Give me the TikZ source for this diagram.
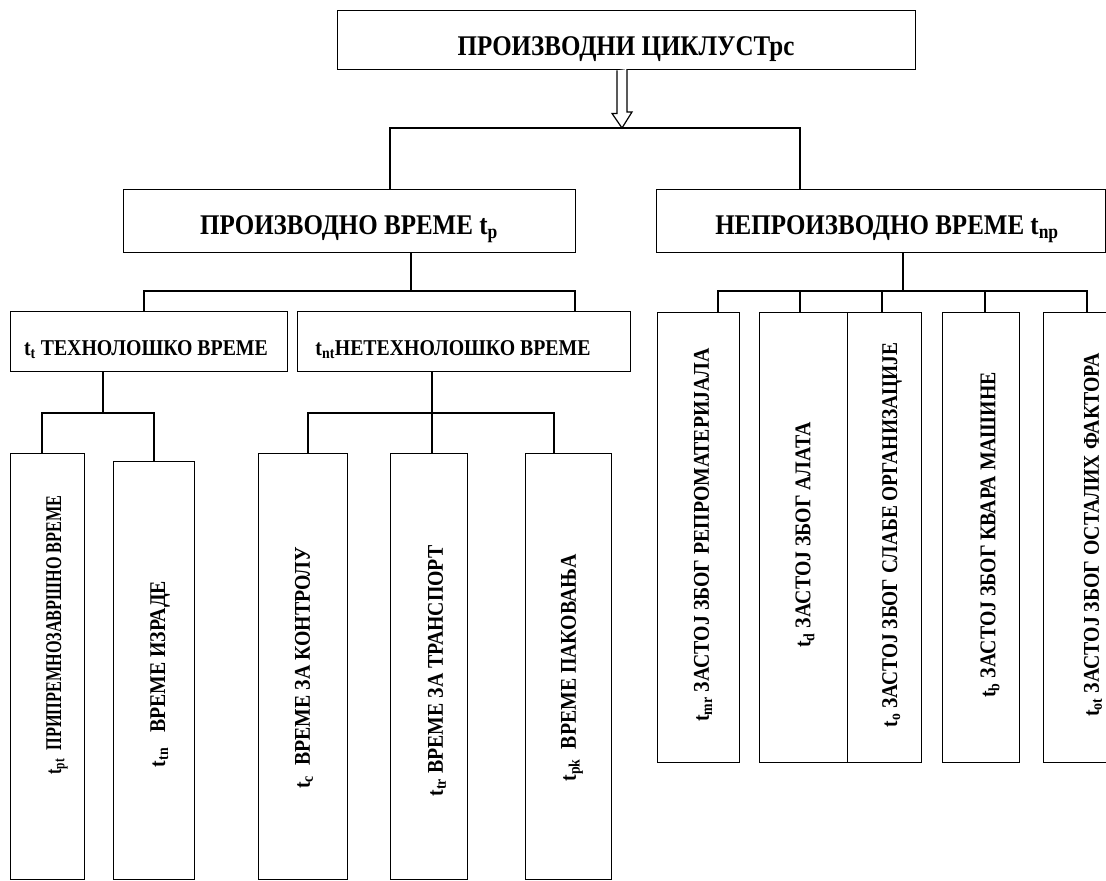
\documentclass[tikz,border=0pt]{standalone}
\usepackage{fontspec}
\setmainfont{Liberation Serif}
\newfontfamily\vfont[FakeStretch=0.88]{Liberation Serif}
\usetikzlibrary{calc}
\newcommand{\tallt}[1]{\scalebox{1}[1.14]{#1}}
\begin{document}
\begin{tikzpicture}[x=1pt,y=-1pt,
  boxst/.style={draw, line width=1.4pt, inner sep=0pt, anchor=north west},
  conn/.style={line width=1.1pt},
  bigtxt/.style={font=\fontsize{25}{29}\selectfont\bfseries, anchor=base, inner sep=0pt},
  midtxt/.style={font=\fontsize{19.8}{23}\selectfont\bfseries, anchor=base, inner sep=0pt},
  vtxt/.style={font=\vfont\fontsize{22.5}{26}\selectfont\bfseries, rotate=90, anchor=center, inner sep=0pt}]
\clip (0,0) rectangle (1106,881);
\fill[white] (0,0) rectangle (1106,881);
% boxes
\node[boxst, minimum width=578pt, minimum height=59pt] (top) at (337,10) {};
\node[boxst, minimum width=452pt, minimum height=63pt] (P) at (123,189) {};
\node[boxst, minimum width=449pt, minimum height=63pt] (N) at (656,189) {};
\node[boxst, minimum width=277pt, minimum height=60pt] (tt) at (10,311) {};
\node[boxst, minimum width=333pt, minimum height=60pt] (tnt) at (297,311) {};
\node[boxst, minimum width=74pt, minimum height=426pt] (b1) at (10,453) {};
\node[boxst, minimum width=81pt, minimum height=418pt] (b2) at (113,461) {};
\node[boxst, minimum width=89pt, minimum height=426pt] (b3) at (258,453) {};
\node[boxst, minimum width=77pt, minimum height=426pt] (b4) at (390,453) {};
\node[boxst, minimum width=86pt, minimum height=426pt] (b5) at (525,453) {};
\node[boxst, minimum width=82pt, minimum height=450pt] (bA) at (657,312) {};
\node[boxst, minimum width=88pt, minimum height=450pt] (bB) at (759,312) {};
\node[boxst, minimum width=74pt, minimum height=450pt] (bC) at (847,312) {};
\node[boxst, minimum width=77pt, minimum height=450pt] (bD) at (942,312) {};
\node[boxst, minimum width=100pt, minimum height=450pt] (bE) at (1043,312) {};
% texts
\node[bigtxt] (ttop) at (626,55) {\tallt{ПРОИЗВОДНИ ЦИКЛУСТрс}};
\node[bigtxt] (tP) at (349,234) {\tallt{ПРОИЗВОДНО ВРЕМЕ t\textsubscript{p}}};
\node[bigtxt] (tN) at (887,234) {\tallt{НЕПРОИЗВОДНО ВРЕМЕ t\textsubscript{np}}};
\node[midtxt] (ttt) at (146,355) {\tallt{t\textsubscript{t} ТЕХНОЛОШКО ВРЕМЕ}};
\node[midtxt] (ttnt) at (453,355) {\tallt{t\textsubscript{nt}НЕТЕХНОЛОШКО ВРЕМЕ}};
\node[vtxt] (t1) at (57,635) {\scalebox{0.82}[1]{t\textsubscript{pt}\ \ ПРИПРЕМНОЗАВРШНО ВРЕМЕ}};
\node[vtxt] (t2) at (160,674) {t\textsubscript{tn}\ \ \ ВРЕМЕ ИЗРАДЕ};
\node[vtxt] (t3) at (304,668) {t\textsubscript{c}\ \ ВРЕМЕ ЗА КОНТРОЛУ};
\node[vtxt] (t4) at (437,671) {t\textsubscript{tr} ВРЕМЕ ЗА ТРАНСПОРТ};
\node[vtxt] (t5) at (572,668) {t\textsubscript{pk}\ \ ВРЕМЕ ПАКОВАЊА};
\node[vtxt] (tA) at (703,535) {t\textsubscript{mr} ЗАСТОЈ ЗБОГ РЕПРОМАТЕРИЈАЛА};
\node[vtxt] (tB) at (805,535) {t\textsubscript{d} ЗАСТОЈ ЗБОГ АЛАТА};
\node[vtxt] (tC) at (892,535) {\scalebox{0.98}[1]{t\textsubscript{o} ЗАСТОЈ ЗБОГ СЛАБЕ ОРГАНИЗАЦИЈЕ}};
\node[vtxt] (tD) at (990,535) {t\textsubscript{b} ЗАСТОЈ ЗБОГ КВАРА МАШИНЕ};
\node[vtxt] (tE) at (1093,535) {t\textsubscript{ot} ЗАСТОЈ ЗБОГ ОСТАЛИХ ФАКТОРА};
% helper coordinates
\coordinate (j0) at (622,128);
\coordinate (j1) at (411,291);
\coordinate (j2) at (103,413);
\coordinate (j3) at (432,413);
\coordinate (j4) at (903,291);
\foreach \xx in {390,800,144,575,42,154,308,554,718,882,985,1087} {\coordinate (x\xx) at (\xx,0);}
% arrow
\draw[line width=1.2pt, fill=white] ($(top.south -| j0)+(-5,0)$) -- ++(0,43) -- ++(-5,0) -- (j0) -- ++(10,-16) -- ++(-5,0) -- ++(0,-43);
% connectors
\draw[conn] (j0) -| (P.north -| x390);
\draw[conn] (j0) -| (N.north -| x800);
\draw[conn] (P.south -| j1) -- (j1);
\draw[conn] (j1) -| (tt.north -| x144);
\draw[conn] (j1) -| (tnt.north -| x575);
\draw[conn] (tt.south -| j2) -- (j2);
\draw[conn] (j2) -| (b1.north -| x42);
\draw[conn] (j2) -| (b2.north -| x154);
\draw[conn] (tnt.south -| j3) -- (j3);
\draw[conn] (j3) -| (b3.north -| x308);
\draw[conn] (j3) -- (b4.north -| j3);
\draw[conn] (j3) -| (b5.north -| x554);
\draw[conn] (N.south -| j4) -- (j4);
\draw[conn] (j4) -| (bA.north -| x718);
\draw[conn] (j4) -| (bB.north -| x800);
\draw[conn] (j4) -| (bC.north -| x882);
\draw[conn] (j4) -| (bD.north -| x985);
\draw[conn] (j4) -| (bE.north -| x1087);
\end{tikzpicture}
\end{document}
